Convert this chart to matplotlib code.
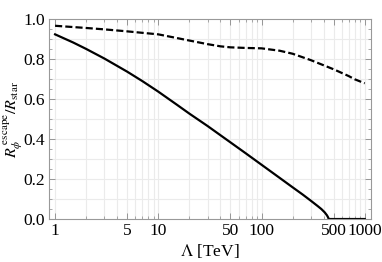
import numpy as np
import matplotlib
matplotlib.use("Agg")
import matplotlib.pyplot as plt
from matplotlib.ticker import FixedLocator, NullFormatter

plt.rcParams['font.family'] = ['Liberation Serif', 'DejaVu Serif']
plt.rcParams['mathtext.fontset'] = 'stix'

# solid curve
lam_solid = [1, 1.5, 2, 3, 5, 7, 10, 15, 20, 30, 50, 70, 100, 150, 200, 250, 300, 350,
             380, 410, 430, 440, 445, 447, 1000]
r_solid = [0.925, 0.884, 0.852, 0.804, 0.738, 0.691, 0.638, 0.574, 0.528, 0.466, 0.384, 0.330,
           0.272, 0.206, 0.159, 0.123, 0.092, 0.065, 0.050, 0.033, 0.019, 0.010, 0.004, 0.0, 0.0]

# dashed curve
lam_dash = [1, 2, 3, 5, 10, 15, 20, 30, 40, 50, 70, 100, 150, 200, 300, 500, 700, 800, 1000]
r_dash = [0.968, 0.957, 0.95, 0.94, 0.925, 0.907, 0.894, 0.876, 0.865, 0.86, 0.857, 0.855,
          0.843, 0.828, 0.796, 0.75, 0.716, 0.70, 0.68]

xticks = [1, 5, 10, 50, 100, 500, 1000]
xtick_labels = ['1', '5', '10', '50', '100', '500', '1000']
yticks = [0.0, 0.2, 0.4, 0.6, 0.8, 1.0]

fig = plt.figure(figsize=(3.82, 2.62), dpi=100)
ax = fig.add_axes([0.128, 0.164, 0.843, 0.762])

ax.set_xscale('log')
ax.set_xlim(10 ** -0.06, 10 ** 3.06)
ax.set_ylim(0, 1)

# light grid
xgrid = [m * 10 ** k for k in range(0, 3) for m in range(1, 10)] + [1000]
for g in xgrid:
    ax.axvline(g, color='#ebebeb', lw=0.8, zorder=0)
for g in np.arange(0.1, 1.0, 0.1):
    ax.axhline(g, color='#ebebeb', lw=0.8, zorder=0)

ax.plot(lam_solid, r_solid, color='black', lw=1.6)
ax.plot(lam_dash, r_dash, color='black', lw=1.6, dashes=(3.2, 1.4))

ax.xaxis.set_major_locator(FixedLocator(xticks))
ax.set_xticklabels(xtick_labels)
ax.xaxis.set_minor_locator(FixedLocator([g for g in xgrid if g not in xticks]))
ax.xaxis.set_minor_formatter(NullFormatter())
ax.set_yticks(yticks)
ax.set_yticklabels(['%.1f' % v for v in yticks])
ax.yaxis.set_minor_locator(FixedLocator(np.arange(0, 1.001, 0.05)))

ax.tick_params(which='both', direction='in', top=True, right=True, color='#888888', labelsize=12.5)
ax.tick_params(which='major', length=4, width=0.6, pad=3)
ax.tick_params(which='minor', length=2, width=0.5)
for s in ax.spines.values():
    s.set_color('#999999')
    s.set_linewidth(0.8)

ax.set_xlabel(r'$\Lambda$ [TeV]', fontsize=12.5, labelpad=2)
fig.text(13 / 382, 0.545, r'$R_{\phi}^{\;\mathrm{escape}}/R_{\mathrm{star}}$', fontsize=11.5,
         rotation=90, ha='center', va='center')

fig.savefig('out.png', dpi=100)
